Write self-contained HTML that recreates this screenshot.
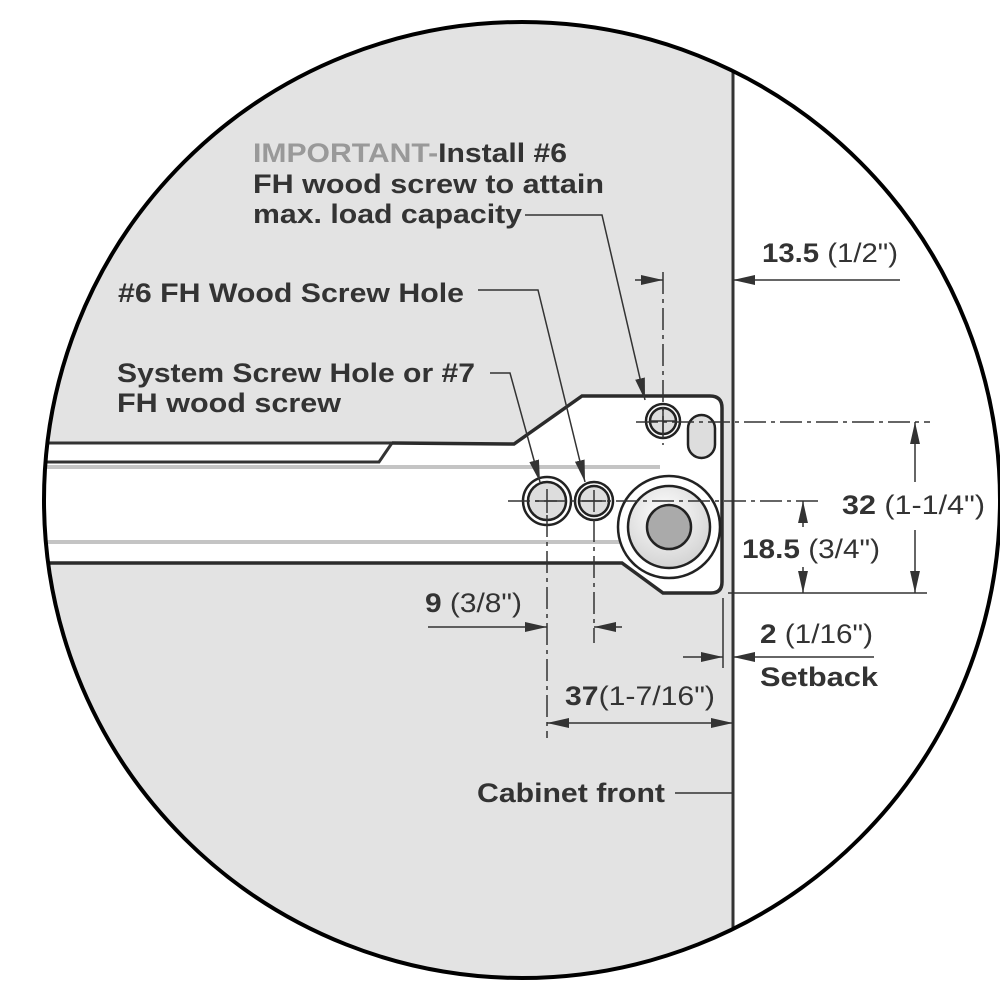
<!DOCTYPE html>
<html><head><meta charset="utf-8"><style>
html,body{margin:0;padding:0;background:#fff}
svg{display:block}
text{font-family:"Liberation Sans",Arial,sans-serif;fill:#333}
</style></head><body>
<svg width="1000" height="1000" viewBox="0 0 1000 1000" xmlns="http://www.w3.org/2000/svg">
<defs>
<clipPath id="c"><circle cx="522" cy="500" r="478"/></clipPath>
<radialGradient id="g" cx="0.45" cy="0.35" r="0.7"><stop offset="0" stop-color="#fff"/><stop offset="1" stop-color="#d0d0d0"/></radialGradient>
<marker id="ab" viewBox="0 0 20 10" refX="20" refY="5" markerWidth="22" markerHeight="11" markerUnits="userSpaceOnUse" orient="auto"><path d="M0,0.5 L20,5 L0,9.5 z" fill="#333"/></marker>
</defs>
<g clip-path="url(#c)">
<rect x="0" y="0" width="733" height="1000" fill="#e3e3e3"/>
<path d="M40,443 L514,444 L582,396 L710,396 Q722,396 722,408 L722,582 Q722,593 711,593 L663,593 L622,563 L40,563 Z" fill="#fff"/>
<path d="M40,443 L392,443 L379,462 L40,462" fill="#fff" stroke="#333" stroke-width="3"/>
<path d="M392,443 L514,444 L582,396 L710,396 Q722,396 722,408 L722,582 Q722,593 711,593 L663,593 L622,563 L40,563" fill="none" stroke="#2b2b2b" stroke-width="3.5"/>
<line x1="45" y1="467" x2="660" y2="467" stroke="#c4c4c4" stroke-width="4"/>
<line x1="45" y1="542" x2="620" y2="542" stroke="#c4c4c4" stroke-width="4"/>
</g>
<line x1="733" y1="71" x2="733" y2="929" stroke="#333" stroke-width="3"/>
<circle cx="522" cy="500" r="478" fill="none" stroke="#000" stroke-width="4"/>
<g stroke="#222" stroke-width="2.5" fill="#ddd">
<circle cx="663" cy="421" r="17" fill="#fff"/><circle cx="663" cy="421" r="13"/>
<rect x="688" y="415" width="27" height="43" rx="13.5" fill="#ddd"/>
<circle cx="547" cy="501" r="24" fill="#fff"/><circle cx="547" cy="501" r="19"/>
<circle cx="594" cy="501" r="19" fill="#fff"/><circle cx="594" cy="501" r="15"/>
<circle cx="669" cy="527" r="51" fill="#fff"/><circle cx="669" cy="527" r="41" fill="url(#g)"/>
<circle cx="669" cy="527" r="22" fill="#aaa"/>
</g>
<g stroke="#333" stroke-width="1.5" fill="none">
<line x1="535" y1="501" x2="557" y2="501"/><line x1="547" y1="489" x2="547" y2="513"/>
<line x1="582" y1="501" x2="606" y2="501"/><line x1="594" y1="490" x2="594" y2="512"/>
<line x1="650" y1="421" x2="676" y2="421"/><line x1="663" y1="408" x2="663" y2="434"/>
<line x1="508" y1="501" x2="818" y2="501" stroke-dasharray="22,5,4,5"/>
<line x1="636" y1="422" x2="930" y2="422" stroke-dasharray="22,5,4,5"/>
<line x1="663" y1="272" x2="663" y2="445" stroke-dasharray="22,5,4,5"/>
<line x1="547" y1="515" x2="547" y2="738" stroke-dasharray="22,5,4,5"/>
<line x1="594" y1="520" x2="594" y2="643" stroke-dasharray="22,5,4,5"/>
<line x1="728" y1="593" x2="927" y2="593"/>
<line x1="723" y1="598" x2="723" y2="668"/>
</g>
<g stroke="#333" stroke-width="1.5" fill="none">
<line x1="635" y1="280" x2="663" y2="280" marker-end="url(#ab)"/>
<line x1="900" y1="280" x2="733" y2="280" marker-end="url(#ab)"/>
<line x1="915" y1="482" x2="915" y2="422" marker-end="url(#ab)"/>
<line x1="915" y1="530" x2="915" y2="593" marker-end="url(#ab)"/>
<line x1="803" y1="527" x2="803" y2="501" marker-end="url(#ab)"/>
<line x1="803" y1="567" x2="803" y2="593" marker-end="url(#ab)"/>
<line x1="428" y1="627" x2="547" y2="627" marker-end="url(#ab)"/>
<line x1="622" y1="627" x2="594" y2="627" marker-end="url(#ab)"/>
<line x1="683" y1="657" x2="723" y2="657" marker-end="url(#ab)"/>
<line x1="874" y1="657" x2="733" y2="657" marker-end="url(#ab)"/>
<line x1="640" y1="723" x2="547" y2="723" marker-end="url(#ab)"/>
<line x1="640" y1="723" x2="733" y2="723" marker-end="url(#ab)"/>
<line x1="675" y1="793" x2="733" y2="793"/>
<polyline points="525,215 602,215 645,400" marker-end="url(#ab)"/>
<polyline points="478,290 538,290 585,482" marker-end="url(#ab)"/>
<polyline points="490,373 510,373 540,482" marker-end="url(#ab)"/>
</g>
<g font-size="27" font-weight="bold">
<text x="253" y="162" textLength="314" lengthAdjust="spacingAndGlyphs"><tspan style="fill:#999">IMPORTANT-</tspan>Install #6</text>
<text x="253" y="193" textLength="351" lengthAdjust="spacingAndGlyphs">FH wood screw to attain</text>
<text x="253" y="223" textLength="269" lengthAdjust="spacingAndGlyphs">max. load capacity</text>
<text x="118" y="302" textLength="346" lengthAdjust="spacingAndGlyphs">#6 FH Wood Screw Hole</text>
<text x="117" y="382" textLength="358" lengthAdjust="spacingAndGlyphs">System Screw Hole or #7</text>
<text x="117" y="412" textLength="224" lengthAdjust="spacingAndGlyphs">FH wood screw</text>
<text x="762" y="262" textLength="136" lengthAdjust="spacingAndGlyphs">13.5<tspan font-weight="normal"> (1/2")</tspan></text>
<text x="842" y="514" textLength="143" lengthAdjust="spacingAndGlyphs">32<tspan font-weight="normal"> (1-1/4")</tspan></text>
<text x="742" y="558" textLength="138" lengthAdjust="spacingAndGlyphs">18.5<tspan font-weight="normal"> (3/4")</tspan></text>
<text x="425" y="612" textLength="97" lengthAdjust="spacingAndGlyphs">9<tspan font-weight="normal"> (3/8")</tspan></text>
<text x="760" y="643" textLength="113" lengthAdjust="spacingAndGlyphs">2<tspan font-weight="normal"> (1/16")</tspan></text>
<text x="760" y="686" textLength="118" lengthAdjust="spacingAndGlyphs">Setback</text>
<text x="565" y="705" textLength="150" lengthAdjust="spacingAndGlyphs">37<tspan font-weight="normal">(1-7/16")</tspan></text>
<text x="477" y="802" textLength="188" lengthAdjust="spacingAndGlyphs">Cabinet front</text>
</g>
</svg>
</body></html>
